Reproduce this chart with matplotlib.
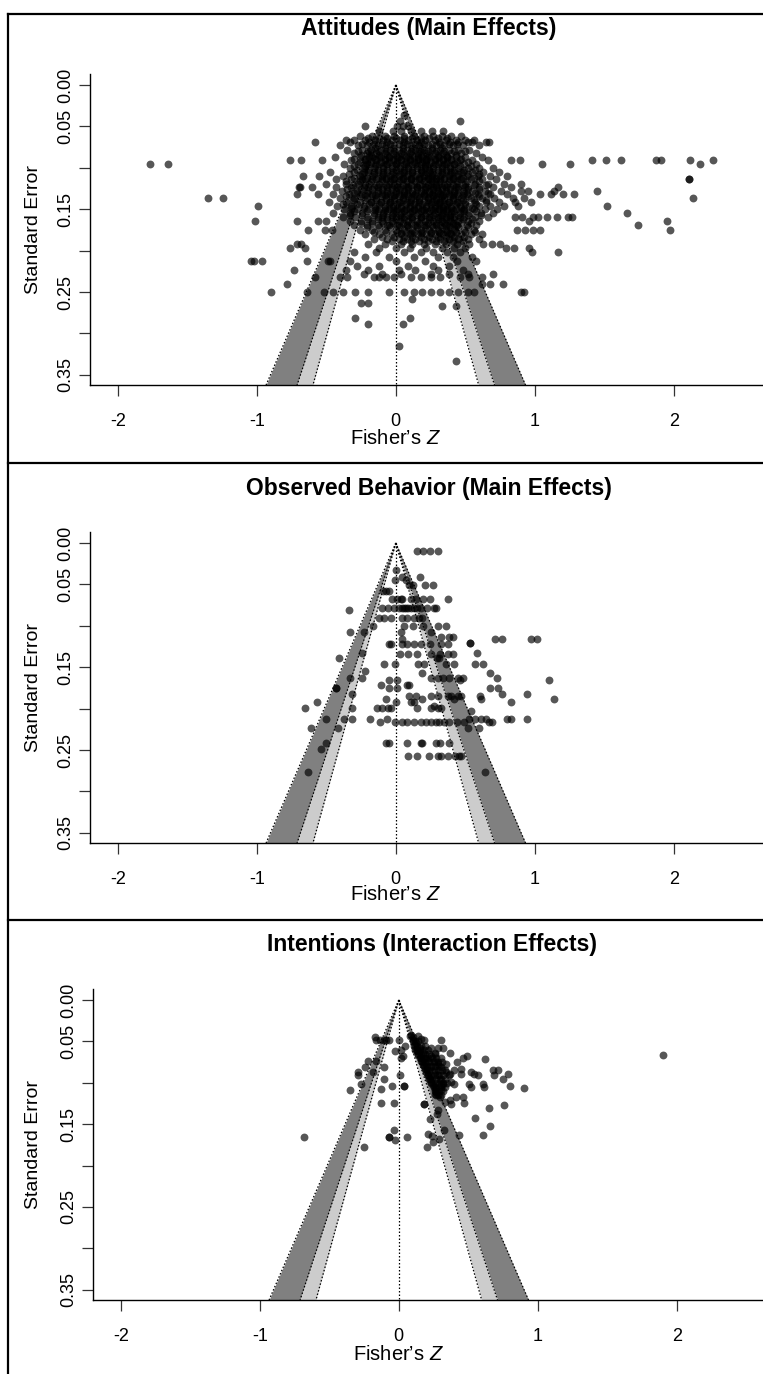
import matplotlib
matplotlib.use("Agg")
import matplotlib.pyplot as plt
import numpy as np
from matplotlib.lines import Line2D

plt.rcParams['font.family'] = ['Liberation Sans', 'DejaVu Sans']
plt.rcParams['mathtext.fontset'] = 'custom'
plt.rcParams['mathtext.it'] = 'Liberation Sans:italic'
plt.rcParams['mathtext.rm'] = 'Liberation Sans'

# ---- data: (standard error, [Fisher's Z values]) ----
attitudes_rows = [
    (0.036, [0.06]),
    (0.044, [0.03, 0.46]),
    (0.050, [-0.22, 0.01, 0.05, 0.09]),
    (0.056, [-0.12, -0.02, 0.04, 0.11, 0.18, 0.26, 0.34]),
    (0.061, [-0.26, -0.17, -0.08, -0.01, 0.06, 0.13, 0.2, 0.27, 0.33, 0.4, 0.47]),
    (0.066, [-0.36, -0.3, -0.22, -0.15, -0.09, -0.03, 0.03, 0.09, 0.15, 0.21, 0.28, 0.36, 0.43, 0.5, 0.56]),
    (0.069, [-0.58, -0.33, -0.19, -0.06, 0.06, 0.18, 0.31, 0.39, 0.45, 0.52, 0.55, 0.67, 0.65]),
    (0.073, [-0.4, -0.27, -0.21, -0.13, -0.07, -0.01, 0.05, 0.11, 0.17, 0.23, 0.29, 0.35, 0.41, 0.48, 0.6]),
    (0.078, [-0.35, -0.24, -0.18, -0.11, -0.04, 0.02, 0.08, 0.14, 0.2, 0.26, 0.32, 0.38, 0.45, 0.53]),
    (0.082, [-0.3, -0.21, -0.14, -0.08, -0.02, 0.04, 0.1, 0.16, 0.22, 0.28, 0.34, 0.4, 0.47, 0.58]),
    (0.087, [-0.44, -0.26, -0.17, -0.11, -0.05, 0.01, 0.07, 0.13, 0.19, 0.25, 0.31, 0.37, 0.43, 0.5, 0.62]),
    (0.091, [-0.76, -0.68, -0.53, -0.32, -0.22, -0.14, -0.08, -0.02, 0.04, 0.1, 0.16, 0.22, 0.28, 0.34,
             0.4, 0.46, 0.55, 0.66, 0.83, 0.89, 1.41, 1.51, 1.62, 1.87, 1.91, 2.12, 2.28]),
    (0.096, [-1.77, -1.64, -0.37, -0.27, -0.19, -0.12, -0.06, 0.0, 0.06, 0.12, 0.18, 0.24, 0.3, 0.36,
             0.42, 0.49, 0.58, 1.05, 1.25, 2.19]),
    (0.100, [-0.33, -0.23, -0.16, -0.09, -0.03, 0.03, 0.09, 0.15, 0.21, 0.27, 0.33, 0.39, 0.45, 0.52, 0.6, 0.7]),
    (0.105, [-0.47, -0.3, -0.2, -0.13, -0.06, 0.0, 0.06, 0.12, 0.18, 0.24, 0.3, 0.36, 0.42, 0.48, 0.55,
             0.63, 0.74]),
    (0.110, [-0.67, -0.55, -0.38, -0.26, -0.17, -0.1, -0.04, 0.02, 0.08, 0.14, 0.2, 0.26, 0.32, 0.38,
             0.44, 0.51, 0.59, 0.68, 0.8]),
    (0.114, [-0.43, -0.32, -0.22, -0.14, -0.07, -0.01, 0.05, 0.11, 0.17, 0.23, 0.29, 0.35, 0.41, 0.47,
             0.54, 0.62, 0.72, 2.11, 2.11]),
    (0.119, [-0.5, -0.36, -0.27, -0.19, -0.12, -0.05, 0.01, 0.07, 0.13, 0.19, 0.25, 0.31, 0.37, 0.43,
             0.5, 0.57, 0.66, 0.78, 0.9]),
    (0.123, [-0.7, -0.69, -0.6, -0.43, -0.32, -0.23, -0.16, -0.09, -0.03, 0.03, 0.09, 0.15, 0.21, 0.27,
             0.33, 0.39, 0.45, 0.52, 0.6, 0.7, 0.83, 1.17]),
    (0.128, [-0.39, -0.28, -0.2, -0.13, -0.06, 0.0, 0.06, 0.12, 0.18, 0.24, 0.3, 0.36, 0.42, 0.48, 0.55,
             0.64, 0.76, 0.9, 0.95, 1.14, 1.45]),
    (0.132, [-0.71, -0.56, -0.45, -0.34, -0.25, -0.17, -0.1, -0.04, 0.02, 0.08, 0.14, 0.2, 0.26, 0.32,
             0.38, 0.44, 0.51, 0.59, 0.68, 0.8, 1.04, 1.12, 1.2, 1.28]),
    (0.137, [-1.35, -1.24, -0.4, -0.3, -0.21, -0.14, -0.07, -0.01, 0.05, 0.11, 0.17, 0.23, 0.29, 0.35,
             0.41, 0.47, 0.54, 0.62, 0.71, 0.84, 0.92, 2.14]),
    (0.141, [-0.48, -0.36, -0.26, -0.18, -0.11, -0.04, 0.02, 0.08, 0.14, 0.2, 0.26, 0.32, 0.38, 0.44,
             0.5, 0.57, 0.65, 0.74, 0.86, 0.97]),
    (0.146, [-0.99, -0.42, -0.32, -0.23, -0.15, -0.08, -0.02, 0.04, 0.1, 0.16, 0.22, 0.28, 0.34, 0.4,
             0.46, 0.53, 0.6, 0.68, 0.78, 0.88, 1.52]),
    (0.150, [-0.37, -0.28, -0.2, -0.12, -0.05, 0.01, 0.07, 0.13, 0.19, 0.25, 0.31, 0.37, 0.43, 0.49,
             0.56, 0.64, 0.73]),
    (0.155, [-0.45, -0.33, -0.24, -0.16, -0.09, -0.02, 0.04, 0.1, 0.16, 0.22, 0.28, 0.34, 0.4, 0.46,
             0.53, 0.61, 0.7, 1.66]),
    (0.160, [-0.38, -0.29, -0.21, -0.13, -0.06, 0.0, 0.06, 0.12, 0.18, 0.24, 0.3, 0.36, 0.42, 0.49,
             0.57, 0.66, 0.86, 0.91, 0.99, 1.02, 1.09, 1.16, 1.24, 1.27]),
    (0.164, [-1.01, -0.71, -0.56, -0.5, -0.33, -0.25, -0.17, -0.1, -0.03, 0.03, 0.09, 0.15, 0.21, 0.27,
             0.33, 0.39, 0.45, 0.52, 0.6, 0.96, 1.95]),
    (0.169, [-0.3, -0.21, -0.13, -0.05, 0.02, 0.08, 0.14, 0.2, 0.26, 0.32, 0.38, 0.44, 0.51, 0.58, 1.74]),
    (0.175, [-0.63, -0.51, -0.46, -0.26, -0.17, -0.08, 0.0, 0.06, 0.12, 0.18, 0.24, 0.3, 0.36, 0.42,
             0.49, 0.56, 0.87, 0.93, 0.99, 1.04, 1.97]),
    (0.180, [-0.22, -0.12, -0.03, 0.04, 0.1, 0.16, 0.22, 0.28, 0.34, 0.4, 0.47, 0.54, 0.62]),
    (0.186, [-0.16, -0.06, 0.02, 0.08, 0.14, 0.2, 0.26, 0.32, 0.38, 0.45, 0.52, 0.6]),
    (0.192, [-0.71, -0.68, -0.2, -0.08, 0.04, 0.12, 0.2, 0.28, 0.36, 0.44, 0.53, 0.63, 0.69, 0.75]),
    (0.197, [-0.76, -0.65, -0.12, 0.0, 0.1, 0.22, 0.33, 0.42, 0.5, 0.79, 0.85, 0.96]),
    (0.202, [-0.3, -0.14, 0.06, 0.18, 0.27, 0.37, 0.46, 0.98, 1.17]),
    (0.208, [-0.22, -0.05, 0.13, 0.3, 0.41, 0.55]),
    (0.213, [-1.04, -1.02, -0.96, -0.64, -0.49, -0.47, -0.33, 0.0, 0.21, 0.44, 0.58]),
    (0.218, [-0.28, -0.12, 0.09, 0.27, 0.38]),
    (0.224, [-0.73, -0.36, -0.2, 0.02, 0.14, 0.3, 0.48]),
    (0.228, [-0.23, -0.1, 0.04, 0.25, 0.38, 0.52, 0.7]),
    (0.232, [-0.58, -0.4, -0.35, -0.16, -0.12, -0.07, -0.01, 0.11, 0.18, 0.25, 0.32, 0.46, 0.53, 0.62]),
    (0.240, [-0.78, 0.62, 0.68, 0.77]),
    (0.250, [-0.9, -0.64, -0.52, -0.45, -0.38, -0.29, -0.2, -0.05, 0.06, 0.13, 0.19, 0.25, 0.32, 0.38,
             0.45, 0.52, 0.56, 0.9, 0.92]),
    (0.258, [0.12]),
    (0.263, [-0.25, -0.2]),
    (0.267, [0.33, 0.43]),
    (0.281, [-0.29, 0.1]),
    (0.289, [-0.2, 0.05]),
    (0.315, [0.02]),
    (0.333, [0.43]),
    # the densely packed core of the cloud
    (0.0635, [-0.2, -0.12, -0.06, 0.0, 0.06, 0.12, 0.18, 0.24, 0.3, 0.37]),
    (0.0715, [-0.24, -0.16, -0.1, -0.04, 0.02, 0.08, 0.14, 0.2, 0.26, 0.32, 0.38, 0.44]),
    (0.0800, [-0.27, -0.2, -0.13, -0.07, -0.01, 0.05, 0.11, 0.17, 0.23, 0.29, 0.35, 0.42, 0.5]),
    (0.0845, [-0.25, -0.18, -0.12, -0.06, 0.0, 0.06, 0.12, 0.18, 0.24, 0.3, 0.36, 0.43]),
    (0.0890, [-0.3, -0.22, -0.15, -0.08, -0.02, 0.04, 0.1, 0.16, 0.22, 0.28, 0.34, 0.4, 0.47]),
    (0.0935, [-0.26, -0.18, -0.11, -0.05, 0.01, 0.07, 0.13, 0.19, 0.25, 0.31, 0.37, 0.44, 0.52]),
    (0.0980, [-0.3, -0.22, -0.15, -0.09, -0.03, 0.03, 0.09, 0.15, 0.21, 0.27, 0.33, 0.39, 0.46, 0.54]),
    (0.1025, [-0.28, -0.2, -0.13, -0.06, 0.0, 0.06, 0.12, 0.18, 0.24, 0.3, 0.36, 0.42, 0.49, 0.57]),
    (0.1075, [-0.34, -0.24, -0.16, -0.09, -0.03, 0.03, 0.09, 0.15, 0.21, 0.27, 0.33, 0.39, 0.45, 0.52, 0.6]),
    (0.1120, [-0.3, -0.21, -0.13, -0.07, -0.01, 0.05, 0.11, 0.17, 0.23, 0.29, 0.35, 0.41, 0.48, 0.56]),
    (0.1165, [-0.36, -0.26, -0.18, -0.1, -0.04, 0.02, 0.08, 0.14, 0.2, 0.26, 0.32, 0.38, 0.44, 0.51, 0.6]),
    (0.1210, [-0.31, -0.22, -0.14, -0.07, -0.01, 0.05, 0.11, 0.17, 0.23, 0.29, 0.35, 0.41, 0.48, 0.56, 0.65]),
    (0.1255, [-0.35, -0.25, -0.17, -0.1, -0.03, 0.03, 0.09, 0.15, 0.21, 0.27, 0.33, 0.39, 0.45, 0.52, 0.6]),
    (0.1300, [-0.3, -0.21, -0.13, -0.06, 0.0, 0.06, 0.12, 0.18, 0.24, 0.3, 0.36, 0.42, 0.49, 0.57, 0.66]),
    (0.1345, [-0.36, -0.26, -0.17, -0.1, -0.03, 0.03, 0.09, 0.15, 0.21, 0.27, 0.33, 0.39, 0.45, 0.52, 0.6]),
    (0.1390, [-0.31, -0.22, -0.14, -0.07, -0.01, 0.05, 0.11, 0.17, 0.23, 0.29, 0.35, 0.41, 0.48, 0.56, 0.65]),
    (0.1435, [-0.38, -0.28, -0.19, -0.12, -0.05, 0.01, 0.07, 0.13, 0.19, 0.25, 0.31, 0.37, 0.43, 0.5, 0.58]),
    (0.1480, [-0.32, -0.23, -0.15, -0.08, -0.02, 0.04, 0.1, 0.16, 0.22, 0.28, 0.34, 0.4, 0.47, 0.55]),
    (0.1525, [-0.3, -0.21, -0.13, -0.06, 0.0, 0.06, 0.12, 0.18, 0.24, 0.3, 0.36, 0.42, 0.49, 0.58]),
    (0.1575, [-0.33, -0.24, -0.16, -0.09, -0.03, 0.03, 0.09, 0.15, 0.21, 0.27, 0.33, 0.39, 0.45, 0.52, 0.61]),
    (0.1620, [-0.2, -0.13, -0.06, 0.0, 0.06, 0.12, 0.18, 0.24, 0.3, 0.36, 0.42, 0.48, 0.55]),
    (0.1665, [-0.25, -0.17, -0.09, -0.02, 0.05, 0.11, 0.17, 0.23, 0.29, 0.35, 0.41, 0.47, 0.54]),
    (0.1720, [-0.21, -0.12, -0.04, 0.03, 0.09, 0.15, 0.21, 0.27, 0.33, 0.39, 0.45, 0.52]),
    (0.1775, [-0.16, -0.07, 0.01, 0.07, 0.13, 0.19, 0.25, 0.31, 0.37, 0.43, 0.5, 0.57]),
    (0.1830, [-0.1, -0.01, 0.06, 0.12, 0.18, 0.24, 0.3, 0.36, 0.42, 0.49]),
    (0.1890, [-0.03, 0.05, 0.11, 0.17, 0.23, 0.29, 0.35, 0.41, 0.48]),
    # the blackest middle of the cloud
    (0.0760, [-0.15, -0.08, -0.02, 0.05, 0.12, 0.19, 0.26, 0.33]),
    (0.0865, [-0.19, -0.12, -0.05, 0.02, 0.09, 0.16, 0.23, 0.3, 0.37]),
    (0.0955, [-0.21, -0.14, -0.07, 0.0, 0.07, 0.14, 0.21, 0.28, 0.35, 0.42]),
    (0.1050, [-0.23, -0.16, -0.09, -0.02, 0.05, 0.12, 0.19, 0.26, 0.33, 0.4, 0.47]),
    (0.1140, [-0.24, -0.17, -0.1, -0.03, 0.04, 0.11, 0.18, 0.25, 0.32, 0.39, 0.46]),
    (0.1230, [-0.2, -0.13, -0.06, 0.01, 0.08, 0.15, 0.22, 0.29, 0.36, 0.43, 0.5]),
    (0.1325, [-0.22, -0.15, -0.08, -0.01, 0.06, 0.13, 0.2, 0.27, 0.34, 0.41, 0.48]),
    (0.1415, [-0.18, -0.11, -0.04, 0.03, 0.1, 0.17, 0.24, 0.31, 0.38, 0.45]),
    (0.1505, [-0.15, -0.08, -0.01, 0.06, 0.13, 0.2, 0.27, 0.34, 0.41, 0.48]),
    (0.1600, [-0.1, -0.03, 0.04, 0.11, 0.18, 0.25, 0.32, 0.39, 0.46]),
    (0.1695, [-0.06, 0.01, 0.08, 0.15, 0.22, 0.29, 0.36, 0.43]),
    (0.1790, [0.04, 0.11, 0.18, 0.25, 0.32, 0.39]),
]

behavior_rows = [
    (0.010, [0.151, 0.199, 0.247, 0.300]),
    (0.033, [0.005]),
    (0.041, [0.048, 0.173]),
    (0.045, [0.072, -0.005]),
    (0.051, [0.125, 0.096, 0.211, 0.271]),
    (0.058, [-0.072, -0.048, -0.089]),
    (0.068, [-0.024, 0.012, 0.036, 0.048, 0.108, 0.144, 0.199, 0.247, 0.376]),
    (0.079, [-0.096, -0.055, -0.012, 0.024, 0.048, 0.072, 0.108, 0.156, 0.18, 0.228, 0.276, 0.288,
             0.06, 0.09, 0.13]),
    (0.081, [-0.336]),
    (0.090, [-0.12, -0.084, -0.036, 0.048, 0.084, 0.132, 0.168, 0.192]),
    (0.100, [-0.161, 0.06, 0.127, 0.199, 0.305, 0.36]),
    (0.108, [-0.228, -0.329, 0.036, 0.252]),
    (0.113, [0.408, 0.324, 0.384]),
    (0.116, [0.712, 0.767, 0.971, 1.019, 0.048]),
    (0.121, [0.532, 0.532]),
    (0.122, [-0.048, -0.036, 0.084, 0.132, 0.18, 0.247, 0.324, 0.372, 0.048]),
    (0.133, [-0.245, 0.585]),
    (0.134, [0.029, 0.089, 0.151, 0.252, 0.319, 0.372, 0.412]),
    (0.139, [-0.408, 0.312, 0.295]),
    (0.146, [0.568, 0.624, -0.082, -0.007, 0.161, 0.204, 0.36, 0.42]),
    (0.155, [-0.221]),
    (0.157, [0.187, 0.679]),
    (0.163, [-0.245, -0.331, 0.252, 0.3, 0.343, 0.384, 0.444, 0.48, 0.731]),
    (0.166, [1.103, -0.048, 0.012, 0.463]),
    (0.171, [-0.108, 0.084, 0.096]),
    (0.175, [-0.432, -0.432, -0.048, 0.012, 0.679, 0.736]),
    (0.182, [-0.312, 0.767, 0.947]),
    (0.185, [0.096, 0.144, 0.252, 0.3, 0.372, 0.396, 0.444, 0.468, 0.607]),
    (0.189, [0.42, 0.612, 1.139, -0.067, 0.192]),
    (0.192, [-0.564, 0.827, 0.0, 0.132, 0.108]),
    (0.197, [0.276]),
    (0.199, [-0.655, -0.137, -0.096, -0.053, -0.036, 0.156, 0.252, 0.3, 0.324, -0.312]),
    (0.203, [0.54]),
    (0.213, [-0.499, -0.372, -0.312, -0.185, -0.065, 0.528, 0.568, 0.612, 0.652, 0.799, 0.832, 0.947]),
    (0.216, [-0.113, -0.007, 0.048, 0.084, 0.132, 0.18, 0.216, 0.252, 0.288, 0.312, 0.348, 0.384,
             0.439, 0.492, 0.671, 0.695]),
    (0.223, [0.52, 0.595, -0.607, -0.415]),
    (0.241, [-0.499]),
    (0.242, [-0.072, -0.048, 0.084, 0.18, 0.192, 0.288, 0.319, 0.384]),
    (0.249, [-0.54]),
    (0.257, [0.089, 0.151, 0.24, 0.3, 0.324, 0.372, 0.424, 0.456, 0.468]),
    (0.276, [-0.635, 0.643]),
]

intentions_rows = [
    (0.042, [0.089]),
    (0.044, [0.084, 0.137]),
    (0.045, [-0.168, 0.1]),
    (0.047, [0.161]),
    (0.048, [-0.134, -0.108, -0.091, -0.067, 0.0, 0.18, 0.3, 0.1, -0.163]),
    (0.050, [0.1, 0.12, 0.14]),
    (0.052, [0.125]),
    (0.054, [0.113]),
    (0.055, [0.11, 0.13, 0.16, 0.19]),
    (0.056, [0.046]),
    (0.058, [0.149, 0.233, 0.281, 0.317]),
    (0.060, [0.017, 0.12, 0.13, 0.15, 0.18, 0.21]),
    (0.062, [-0.026, 0.132]),
    (0.064, [0.173, 0.365, 0.257]),
    (0.065, [0.14, 0.16, 0.19, 0.22, 0.26]),
    (0.066, [0.137, 1.9]),
    (0.068, [0.029, 0.489, 0.233]),
    (0.070, [0.017, 0.149, 0.189, 0.46, 0.305, 0.16, 0.18, 0.21, 0.24, 0.27]),
    (0.071, [0.621]),
    (0.074, [-0.223, -0.163, 0.161, 0.209, 0.257]),
    (0.075, [0.42, 0.17, 0.19, 0.22, 0.25, 0.28, 0.31]),
    (0.077, [0.281, 0.341]),
    (0.079, [0.173]),
    (0.080, [0.18, 0.2, 0.23, 0.26, 0.29]),
    (0.081, [-0.24, -0.11, 0.233, 0.305]),
    (0.083, [0.185, 0.448]),
    (0.085, [0.676, 0.712, 0.4, 0.329, 0.2, 0.22, 0.25, 0.28, 0.31]),
    (0.087, [-0.187, -0.29, 0.197, 0.257, 0.341, 0.52]),
    (0.089, [0.544, 0.448, 0.365, 0.784]),
    (0.090, [0.21, 0.23, 0.26, 0.29, 0.32, 0.36]),
    (0.091, [-0.295, 0.01, 0.209, 0.281, 0.568, 0.688]),
    (0.095, [0.221, 0.748, 0.22, 0.24, 0.27, 0.3, 0.33]),
    (0.096, [-0.108]),
    (0.097, [0.293]),
    (0.099, [0.233, 0.376]),
    (0.100, [0.23, 0.26, 0.29, 0.32, 0.35]),
    (0.101, [-0.271, 0.504, 0.604, 0.317, 0.4]),
    (0.103, [0.245, 0.305]),
    (0.104, [-0.05, 0.041, 0.041, 0.801]),
    (0.105, [0.52, 0.612, 0.25, 0.27, 0.3, 0.33]),
    (0.106, [0.904]),
    (0.107, [-0.127, 0.257]),
    (0.109, [-0.35, 0.305]),
    (0.110, [0.26, 0.29, 0.32]),
    (0.111, [0.269]),
    (0.113, [0.257]),
    (0.115, [0.281, 0.27, 0.3]),
    (0.117, [0.293, 0.412, 0.46]),
    (0.121, [0.365]),
    (0.123, [0.329]),
    (0.124, [-0.127, -0.031, 0.472]),
    (0.125, [0.376]),
    (0.126, [0.18, 0.18]),
    (0.127, [0.76]),
    (0.130, [0.652]),
    (0.133, [0.281]),
    (0.138, [0.276]),
    (0.143, [0.549]),
    (0.144, [0.228]),
    (0.152, [0.655]),
    (0.157, [-0.038, 0.324]),
    (0.162, [0.209]),
    (0.163, [0.604, 0.432]),
    (0.164, [0.237]),
    (0.165, [-0.072, -0.072, 0.06]),
    (0.166, [-0.679]),
    (0.168, [0.288]),
    (0.169, [-0.024]),
    (0.172, [0.249]),
    (0.177, [-0.252, 0.204]),
]

titles = ['Attitudes (Main Effects)', 'Observed Behavior (Main Effects)', 'Intentions (Interaction Effects)']
se_ticks = [0.00, 0.05, 0.10, 0.15, 0.20, 0.25, 0.30, 0.35]
se_labels = ['0.00', '0.05', '', '0.15', '', '0.25', '', '0.35']
z_ticks = [-2, -1, 0, 1, 2]
crit = [1.645, 1.96, 2.576]   # 90 / 95 / 99 % contours

W, H = 763, 1374
fig = plt.figure(figsize=(W / 100, H / 100), dpi=100)

# pixel layout of each panel: axis-left, axes-top, y(0.00), axes-bottom, title y, xlabel y, title x
layout = [
    (90, 74, 85, 385, 28, 438, 429),
    (90, 532, 543, 843, 488, 895, 429),
    (93, 989, 1000, 1300, 945, 1355, 432),
]
px_per_se = 828.0
px_per_z = 139.0
dots = dict(ls=(0, (1.2, 1.6)), color='black', lw=0.9)

for rows, title, (left, top, zero, bottom, ty, ly, tx) in zip(
        [attitudes_rows, behavior_rows, intentions_rows], titles, layout):
    se_vals = np.array([s for s, zs in rows for _ in zs])
    z_vals = np.array([z for s, zs in rows for z in zs])

    width_px = 4.9 * px_per_z
    ax = fig.add_axes([left / W, 1 - bottom / H, width_px / W, (bottom - top) / H])
    se_bot = (bottom - zero) / px_per_se
    se_top = (top - zero) / px_per_se
    ax.set_xlim(-2.2, 2.7)
    ax.set_ylim(se_bot, se_top)

    se_line = np.array([0.0, se_bot])
    ax.fill_betweenx(se_line, -crit[2] * se_line, -crit[1] * se_line, color='#808080', lw=0)
    ax.fill_betweenx(se_line, crit[1] * se_line, crit[2] * se_line, color='#808080', lw=0)
    ax.fill_betweenx(se_line, -crit[1] * se_line, -crit[0] * se_line, color='#cccccc', lw=0)
    ax.fill_betweenx(se_line, crit[0] * se_line, crit[1] * se_line, color='#cccccc', lw=0)
    for c in crit:
        ax.plot(-c * se_line, se_line, **dots)
        ax.plot(c * se_line, se_line, **dots)
    ax.plot([0, 0], se_line, **dots)

    ax.scatter(z_vals, se_vals, s=32, color='black', alpha=0.66, linewidths=0, zorder=3)

    for side in ['top', 'right']:
        ax.spines[side].set_visible(False)
    ax.spines['left'].set_linewidth(1.0)
    ax.spines['bottom'].set_linewidth(1.0)
    ax.set_yticks(se_ticks)
    ax.set_yticklabels(se_labels, rotation=90, va='center', fontsize=13)
    ax.set_xticks(z_ticks)
    ax.set_xticklabels([str(t) for t in z_ticks], fontsize=13)
    ax.tick_params(axis='both', direction='out', length=8, width=0.9, color='#333333')
    ax.tick_params(axis='x', pad=12)
    ax.tick_params(axis='y', pad=3)

    fig.text(33 / W, 1 - (top + bottom) / 2 / H, 'Standard Error', rotation=90,
             ha='center', va='center', fontsize=14)
    fig.text(tx / W, 1 - ty / H, title, ha='center', va='center', fontsize=16.5, fontweight='bold')
    fig.text((left + 305) / W, 1 - ly / H, 'Fisher\u2019s $Z$', ha='center', va='center', fontsize=14.5)

# panel frames
frame = dict(color='black', lw=1.6, transform=fig.transFigure)
fig.add_artist(Line2D([8 / W, 8 / W], [1 - 14 / H, 0], **frame))
for yy in [14, 463, 920]:
    fig.add_artist(Line2D([8 / W, 1], [1 - yy / H, 1 - yy / H], **frame))

fig.savefig('out.png', dpi=100)
